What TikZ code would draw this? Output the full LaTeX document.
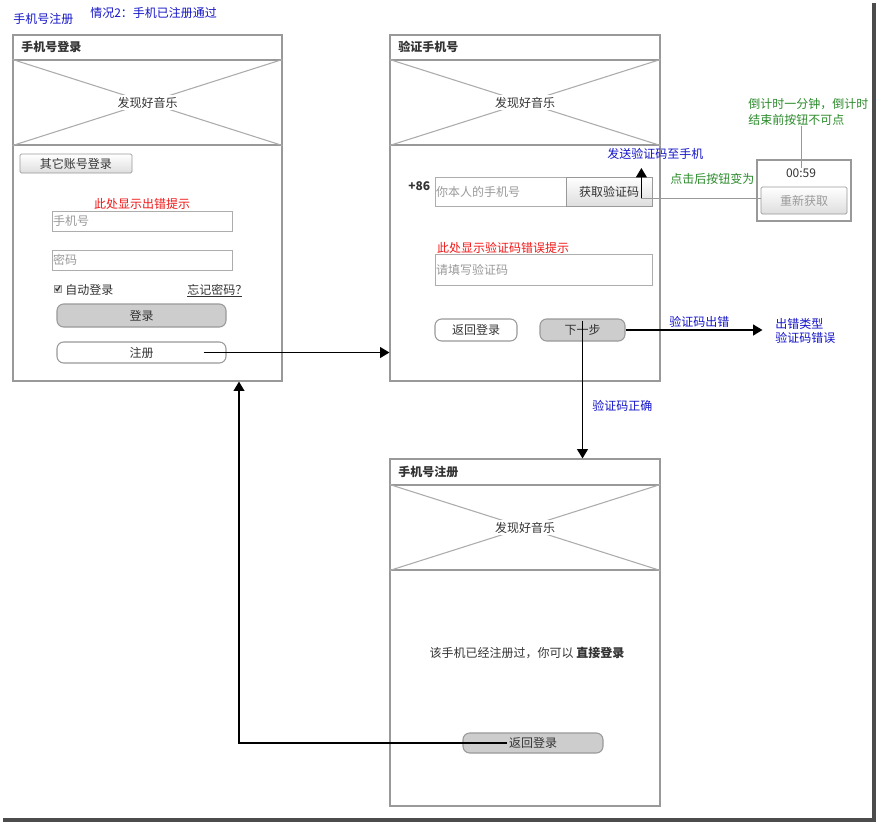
\documentclass[tikz,border=0pt]{standalone}
\usepackage{fontspec}
\setmainfont{Noto Sans CJK SC}
\usetikzlibrary{fit,calc,arrows.meta}
\definecolor{bluetxt}{HTML}{1414C8}
\definecolor{redtxt}{HTML}{F01818}
\definecolor{greentxt}{HTML}{2A8A2A}
\definecolor{darktxt}{HTML}{333333}
\definecolor{frame}{HTML}{999999}
\definecolor{xline}{HTML}{ACACAC}
\definecolor{holder}{HTML}{9A9A9A}
\definecolor{btngray}{HTML}{CDCDCD}
\tikzset{
  panel/.style={draw=frame, line width=0.8pt, inner sep=0pt, fill=white},
  imgbox/.style={draw=frame, line width=0.8pt, inner sep=0pt},
  xl/.style={draw=xline, line width=0.8pt},
  lbl/.style={fill=white, inner sep=1.5pt, text=darktxt},
  ttl/.style={anchor=west, font=\fontsize{9}{11}\selectfont\bfseries, text=darktxt, inner sep=0pt},
  txt/.style={text=darktxt, inner sep=0pt},
  gradbtn/.style={draw=frame, line width=0.6pt, top color=white, bottom color=black!13, inner sep=0pt, rounded corners=1pt},
  rbtn/.style={draw=frame, line width=0.8pt, rounded corners=5pt, inner sep=0pt},
  field/.style={draw=frame!80, line width=0.6pt, inner sep=0pt, fill=white},
  ph/.style={anchor=west, text=holder, inner sep=1pt},
  arr/.style={draw=black, line width=1.3pt, -{Triangle[length=7pt,width=8pt]}},
  thinl/.style={draw=frame, line width=0.6pt},
  bnote/.style={text=bluetxt, inner sep=0pt},
  gnote/.style={text=greentxt, inner sep=0pt},
  rnote/.style={text=redtxt, inner sep=0pt},
}
\begin{document}
\begin{tikzpicture}[x=0.75pt,y=-0.75pt, font=\fontsize{9}{11}\selectfont]
\useasboundingbox (0,0) rectangle (876,822);
% shadow frame
\fill[black!70] (872,3) rectangle (875.5,821.5);
\fill[black!70] (3,818) rectangle (875.5,821.5);

% top labels
\node[bnote, anchor=west] (h1) at (13,19) {手机号注册};
\node[bnote, anchor=west] (h2) at (90,13) {情况2：手机已注册通过};

% ---------- Panel 1 ----------
\node[panel, fit={(13,35)(282,381)}] (p1) {};
\node[imgbox, fit={(13,60)(282,145)}] (img1) {};
\draw[xl] (img1.north west) -- (img1.south east);
\draw[xl] (img1.south west) -- (img1.north east);
\node[lbl] at (img1.center) {发现好音乐};
\node[ttl] at (21,47) {手机号登录};
\node[gradbtn, fit={(20,154)(132,173)}] (other) {};
\node[txt] at (other.center) {其它账号登录};
\node[rnote] at (142,204) {此处显示出错提示};
\node[field, fit={(52,211)(232,231)}] (f1) {};
\node[ph] at (f1.west) {手机号};
\node[field, fit={(52,250)(232,270)}] (f2) {};
\node[ph] at (f2.west) {密码};
\node[draw=frame, fill=black!12, fit={(54,285)(61,292)}, inner sep=0pt, line width=0.5pt] (cb) {};
\draw[darktxt, line width=0.9pt] (55.5,288.5) -- (57.3,290.6) -- (60,286);
\node[txt, anchor=west] at (65,290) {自动登录};
\node[txt, anchor=west] (forgot) at (187,290) {忘记密码？};
\draw[darktxt, line width=0.6pt] (187,296.5) -- (242,296.5);
\node[rbtn, fill=btngray, fit={(57,304)(226,327)}] (login) {};
\node[txt] at (login.center) {登录};
\node[rbtn, fill=white, fit={(57,342)(226,363)}] (reg) {};
\node[txt] at (reg.center) {注册};

% ---------- Panel 2 ----------
\node[panel, fit={(390,35)(660,381)}] (p2) {};
\node[imgbox, fit={(390,60)(660,145)}] (img2) {};
\draw[xl] (img2.north west) -- (img2.south east);
\draw[xl] (img2.south west) -- (img2.north east);
\node[lbl] at (img2.center) {发现好音乐};
\node[ttl] at (398,47) {验证手机号};
\node[txt, font=\fontsize{9}{11}\selectfont\bfseries, anchor=west] at (408,186) {+86};
\node[field, fit={(435,177)(566,206)}] (phone) {};
\node[ph] at (phone.west) {你本人的手机号};
\node[gradbtn, rounded corners=0pt, fit={(566,177)(652,206)}] (getcode) {};
\node[txt] at (getcode.center) {获取验证码};
\node[rnote] at (503,248) {此处显示验证码错误提示};
\node[field, fit={(435,254)(652,285)}] (code) {};
\node[ph] at (code.west) {请填写验证码};
\node[rbtn, fill=white, fit={(435,319)(517,341)}] (back2) {};
\node[txt] at (back2.center) {返回登录};
\node[rbtn, fill=btngray, fit={(540,319)(625,341)}] (next) {};
\node[txt] at (next.center) {下一步};

% countdown
\node[draw=frame, line width=0.8pt, fill=white, inner sep=0pt, fit={(757,160)(851,221)}] (cd) {};
\node[txt] (timer) at (801,173) {00:59};
\node[gradbtn, fit={(761,187)(847,214)}] (regain) {};
\node[text=holder, inner sep=0pt] at (regain.center) {重新获取};
\node[gnote, align=left, anchor=north west, font=\fontsize{9}{12.5}\selectfont] (cdnote) at (748,98) {倒计时一分钟，倒计时\\结束前按钮不可点};
\draw[thinl] (801,126) -- (timer.north);

\coordinate (gbase) at ($(getcode.east)+(-11,6.5)$);
\draw[thinl] (gbase) -- (gbase -| regain.west);
\draw[arr] (gbase) -- ++(0,-30);
\node[bnote, anchor=west] at (607,154) {发送验证码至手机};
\node[gnote, anchor=west] at (670,179) {点击后按钮变为};

% error arrow
\coordinate (errend) at ($(next.east)+(137,0)$);
\draw[arr] (next.east) -- (errend);
\node[bnote, anchor=west] at (669,322) {验证码出错};
\node[bnote, align=left, anchor=west, font=\fontsize{9}{10.5}\selectfont] (errtype) at (775,330.5) {出错类型\\验证码错误};

% ---------- Panel 3 ----------
\node[panel, fit={(390,459)(660,806)}] (p3) {};
\node[imgbox, fit={(390,485)(660,570)}] (img3) {};
\draw[xl] (img3.north west) -- (img3.south east);
\draw[xl] (img3.south west) -- (img3.north east);
\node[lbl] at (img3.center) {发现好音乐};
\node[ttl] at (398,472) {手机号注册};
\node[txt] at (527,653) {该手机已经注册过，你可以 \textbf{直接登录}};
\node[rbtn, fill=btngray, fit={(463,733)(603,753)}] (back3) {};
\node[txt] at (back3.center) {返回登录};

% ---------- connectors ----------
\draw[arr] ($(reg.east)+(-23,0)$) -- (p2.west |- reg.east);
\draw[arr] ([yshift=7]next.center) -- (next.center |- p3.north);
\node[bnote, anchor=west] at (592,406) {验证码正确};
\draw[arr] ($(back3.center)+(-26,0)$) -| ($(p1.south)+(91.5,0)$);
\end{tikzpicture}
\end{document}
